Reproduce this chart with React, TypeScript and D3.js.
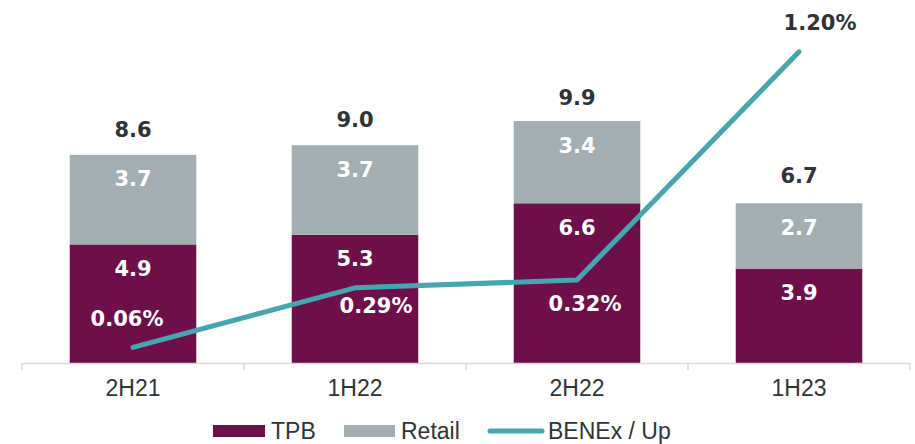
import { useEffect, useRef } from "react";
import * as d3 from "d3";

const periods = ["2H21", "1H22", "2H22", "1H23"];
const tpb = [4.9, 5.3, 6.6, 3.9];
const retail = [3.7, 3.7, 3.4, 2.7];
const totals = [8.6, 9.0, 9.9, 6.7];
const benex = [0.06, 0.29, 0.32, 1.2];
const benexLabels = ["0.06%", "0.29%", "0.32%", "1.20%"];

// where each % label sits relative to its point
const pctOffsets = [
  [-6, -29],
  [21, 18],
  [8, 23],
  [21, -29],
];

const W = 915;
const H = 444;
const BOLD_FONT = "'DejaVu Sans', sans-serif";
const FONT = "'Liberation Sans', Arial, sans-serif";
const C_TPB = "#6F0F4A";
const C_RETAIL = "#A3AEB3";
const C_LINE = "#45A6B0";
const C_TEXT = "#2E3436";

export default function App() {
  const svgRef = useRef<SVGSVGElement | null>(null);

  useEffect(() => {
    if (!svgRef.current) return;
    const svg = d3.select(svgRef.current);
    svg.selectAll("*").remove();

    const baseY = 363;
    const x = d3.scaleBand().domain(periods).range([22, 910]).paddingInner(0.43).paddingOuter(0.215);
    const step = x.step();
    const y = d3.scaleLinear().domain([0, 15]).range([baseY, 0]);
    const y2 = d3.scaleLinear().domain([0, 1.4]).range([baseY, 0]);

    const rows = periods.map((p, i) => ({ p, tpb: tpb[i], retail: retail[i] }));
    const stack = d3.stack<any>().keys(["tpb", "retail"])(rows);
    const colors: Record<string, string> = { tpb: C_TPB, retail: C_RETAIL };

    stack.forEach((layer) => {
      const g = svg.append("g");
      g.selectAll("rect")
        .data(layer)
        .join("rect")
        .attr("x", (d) => x(d.data.p)!)
        .attr("width", x.bandwidth())
        .attr("y", (d) => y(d[1]))
        .attr("height", (d) => y(d[0]) - y(d[1]))
        .attr("fill", colors[layer.key]);
      g.selectAll("text")
        .data(layer)
        .join("text")
        .attr("x", (d) => x(d.data.p)! + x.bandwidth() / 2)
        .attr("y", (d) => y(d[1]) + 24)
        .attr("dy", "0.36em")
        .attr("text-anchor", "middle")
        .attr("fill", "#fff")
        .style("font-family", BOLD_FONT)
        .style("font-weight", "700")
        .style("font-size", "21px")
        .text((d) => (d.data as any)[layer.key].toFixed(1));
    });

    // totals
    svg.append("g")
      .selectAll("text")
      .data(periods)
      .join("text")
      .attr("x", (p) => x(p)! + x.bandwidth() / 2)
      .attr("y", (_, i) => y(totals[i]) - 18)
      .attr("text-anchor", "middle")
      .attr("fill", C_TEXT)
      .style("font-family", BOLD_FONT)
      .style("font-weight", "700")
      .style("font-size", "21px")
      .text((_, i) => totals[i].toFixed(1));

    // axis
    const ax = svg.append("g");
    ax.append("line")
      .attr("x1", 22).attr("x2", 910)
      .attr("y1", baseY + 0.5).attr("y2", baseY + 0.5)
      .attr("stroke", "#D9D9D9").attr("stroke-width", 1.5);
    const bounds = d3.range(periods.length + 1).map((i) => 22 + i * step);
    ax.selectAll("line.tick")
      .data(bounds)
      .join("line")
      .attr("class", "tick")
      .attr("x1", (d) => d).attr("x2", (d) => d)
      .attr("y1", baseY).attr("y2", baseY + 7)
      .attr("stroke", "#D9D9D9").attr("stroke-width", 1.5);
    ax.selectAll("text")
      .data(periods)
      .join("text")
      .attr("x", (p) => x(p)! + x.bandwidth() / 2)
      .attr("y", 396)
      .attr("text-anchor", "middle")
      .attr("fill", C_TEXT)
      .style("font-family", FONT)
      .style("font-size", "23px")
      .text((p) => p);

    // line
    const line = d3.line<number>()
      .x((_, i) => x(periods[i])! + x.bandwidth() / 2)
      .y((d) => y2(d));
    svg.append("path")
      .attr("d", line(benex))
      .attr("fill", "none")
      .attr("stroke", C_LINE)
      .attr("stroke-width", 5)
      .attr("stroke-linecap", "round")
      .attr("stroke-linejoin", "round");

    svg.append("g")
      .selectAll("text")
      .data(benex)
      .join("text")
      .attr("x", (_, i) => x(periods[i])! + x.bandwidth() / 2 + pctOffsets[i][0])
      .attr("y", (d, i) => y2(d) + pctOffsets[i][1])
      .attr("dy", "0.36em")
      .attr("text-anchor", "middle")
      .attr("fill", (_, i) => (i === benex.length - 1 ? C_TEXT : "#fff"))
      .style("font-family", BOLD_FONT)
      .style("font-weight", "700")
      .style("font-size", "21px")
      .text((_, i) => benexLabels[i]);

    // legend
    const lg = svg.append("g").style("font-family", FONT).style("font-size", "23px");
    const ly = 431;
    lg.append("rect").attr("x", 213).attr("y", ly - 6).attr("width", 52).attr("height", 12).attr("fill", C_TPB);
    lg.append("text").attr("x", 271).attr("y", ly + 8).attr("fill", C_TEXT).text("TPB");
    lg.append("rect").attr("x", 344).attr("y", ly - 6).attr("width", 51).attr("height", 12).attr("fill", C_RETAIL);
    lg.append("text").attr("x", 401).attr("y", ly + 8).attr("fill", C_TEXT).text("Retail");
    lg.append("line").attr("x1", 490).attr("x2", 542).attr("y1", ly).attr("y2", ly)
      .attr("stroke", C_LINE).attr("stroke-width", 5).attr("stroke-linecap", "round");
    lg.append("text").attr("x", 548).attr("y", ly + 8).attr("fill", C_TEXT).text("BENEx / Up");
  }, []);

  return (
    <svg
      ref={svgRef}
      width={W}
      height={H}
      style={{ position: "absolute", left: 0, top: 0, background: "#fff" }}
    />
  );
}
